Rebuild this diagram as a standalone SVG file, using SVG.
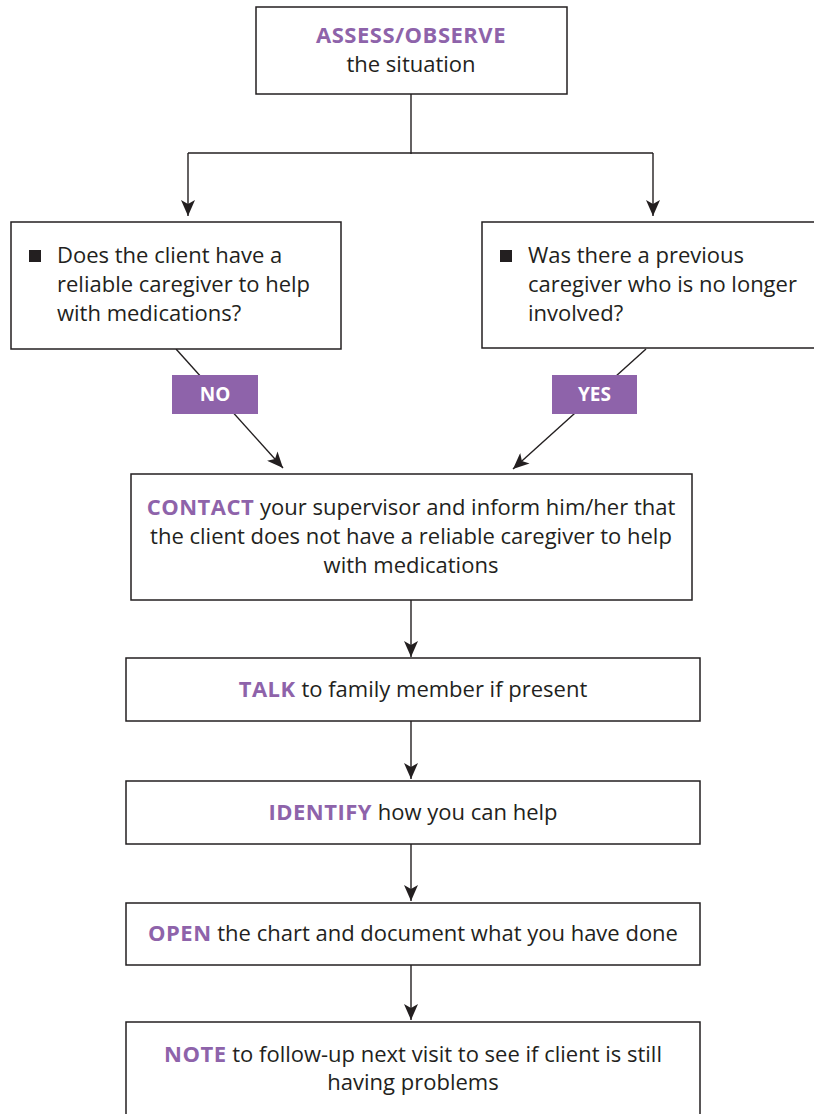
<svg xmlns="http://www.w3.org/2000/svg" width="814" height="1114" viewBox="0 0 814 1114">
<defs>
<style>
.box{fill:#fff;stroke:#231f20;stroke-width:1.5}
.ln{fill:none;stroke:#231f20;stroke-width:1.4}
.t{font-family:"Open Sans","Noto Sans",sans-serif;font-size:22px;fill:#231f20}
.c{text-anchor:middle}
.b{font-weight:bold;fill:#8e63aa;letter-spacing:0.5px}
.tag{fill:#8e63aa}
.tagt{font-family:"Open Sans","Noto Sans",sans-serif;font-size:19px;font-weight:bold;fill:#fff;text-anchor:middle}
</style>
<marker id="ah" markerUnits="userSpaceOnUse" markerWidth="18" markerHeight="14" refX="16" refY="7" orient="auto">
<path d="M0,0 L16,7 L0,14 L4,7 z" fill="#231f20"/>
</marker>
</defs>
<rect width="814" height="1114" fill="#fff"/>
<g id="connectors">
<path class="ln" d="M411,94 V154"/>
<path class="ln" d="M188,153 H653"/>
<path class="ln" d="M188,153 V216" marker-end="url(#ah)"/>
<path class="ln" d="M653,153 V216" marker-end="url(#ah)"/>
<path class="ln" d="M176,349 L283,468" marker-end="url(#ah)"/>
<path class="ln" d="M646,349 L513,469" marker-end="url(#ah)"/>
<path class="ln" d="M411,600 V657" marker-end="url(#ah)"/>
<path class="ln" d="M411,721 V779" marker-end="url(#ah)"/>
<path class="ln" d="M411,844 V901" marker-end="url(#ah)"/>
<path class="ln" d="M411,965 V1020" marker-end="url(#ah)"/>
</g>
<g id="assess">
<rect class="box" x="256" y="7" width="311" height="87"/>
<text class="t c b" x="411" y="43">ASSESS/OBSERVE</text>
<text class="t c" x="411" y="72">the situation</text>
</g>
<g id="q-left">
<rect class="box" x="11" y="222" width="330" height="127"/>
<rect x="29" y="250" width="12" height="12" fill="#231f20"/>
<text class="t" x="57" y="263">Does the client have a</text>
<text class="t" x="57" y="292">reliable caregiver to help</text>
<text class="t" x="57" y="321">with medications?</text>
</g>
<g id="q-right">
<rect class="box" x="482" y="222" width="334" height="126"/>
<rect x="500" y="250" width="12" height="12" fill="#231f20"/>
<text class="t" x="528" y="263">Was there a previous</text>
<text class="t" x="528" y="292">caregiver who is no longer</text>
<text class="t" x="528" y="321">involved?</text>
</g>
<g id="no">
<rect class="tag" x="172" y="375" width="86" height="39"/>
<text class="tagt" x="215" y="401">NO</text>
</g>
<g id="yes">
<rect class="tag" x="552" y="375" width="85" height="39"/>
<text class="tagt" x="594.5" y="401">YES</text>
</g>
<g id="contact">
<rect class="box" x="131" y="474" width="561" height="126"/>
<text class="t c" x="411" y="515"><tspan class="b">CONTACT</tspan> your supervisor and inform him/her that</text>
<text class="t c" x="411" y="544">the client does not have a reliable caregiver to help</text>
<text class="t c" x="411" y="573">with medications</text>
</g>
<g id="talk">
<rect class="box" x="126" y="658" width="574" height="63"/>
<text class="t c" x="413" y="697"><tspan class="b">TALK</tspan> to family member if present</text>
</g>
<g id="identify">
<rect class="box" x="126" y="781" width="574" height="63"/>
<text class="t c" x="413" y="820"><tspan class="b">IDENTIFY</tspan> how you can help</text>
</g>
<g id="open">
<rect class="box" x="126" y="903" width="574" height="62"/>
<text class="t c" x="413" y="941"><tspan class="b">OPEN</tspan> the chart and document what you have done</text>
</g>
<g id="note">
<rect class="box" x="126" y="1022" width="574" height="100"/>
<text class="t c" x="413" y="1062"><tspan class="b">NOTE</tspan> to follow-up next visit to see if client is still</text>
<text class="t c" x="413" y="1090">having problems</text>
</g>
</svg>
